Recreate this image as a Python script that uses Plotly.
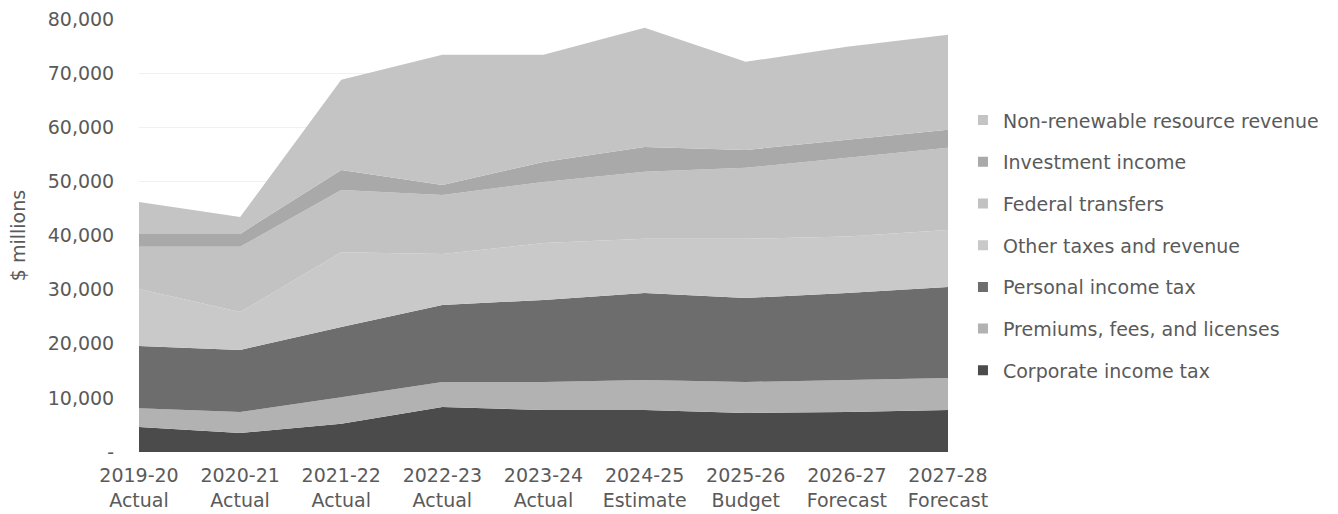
import plotly.graph_objects as go

# Fiscal years and their status
years = ["2019-20", "2020-21", "2021-22", "2022-23", "2023-24",
         "2024-25", "2025-26", "2026-27", "2027-28"]
status = ["Actual", "Actual", "Actual", "Actual", "Actual",
          "Estimate", "Budget", "Forecast", "Forecast"]

# Revenue by source ($ millions)
corporate_income_tax = [4600, 3500, 5200, 8300, 7760, 7760, 7200, 7390, 7760]
premiums_fees_licenses = [3500, 3900, 4900, 4640, 5180, 5540, 5740, 5910, 5920]
personal_income_tax = [11500, 11450, 13000, 14230, 15160, 16090, 15520, 16090, 16820]
other_taxes_revenue = [10500, 7000, 13800, 9400, 10500, 10000, 10940, 10410, 10500]
federal_transfers = [7800, 12050, 11500, 10930, 11300, 12370, 13100, 14540, 15190]
investment_income = [2400, 2400, 3700, 1850, 3700, 4600, 3300, 3330, 3330]
non_renewable_resource = [5900, 3100, 16660, 24030, 19800, 22010, 16290, 17190, 17560]

# Stacked bottom to top
series = [
    ("Corporate income tax", corporate_income_tax, "#4b4b4b"),
    ("Premiums, fees, and licenses", premiums_fees_licenses, "#b2b2b2"),
    ("Personal income tax", personal_income_tax, "#6d6d6d"),
    ("Other taxes and revenue", other_taxes_revenue, "#c9c9c9"),
    ("Federal transfers", federal_transfers, "#c2c2c2"),
    ("Investment income", investment_income, "#a9a9a9"),
    ("Non-renewable resource revenue", non_renewable_resource, "#c4c4c4"),
]

x_labels = [f"{y}<br>{s}" for y, s in zip(years, status)]
x_pos = list(range(len(years)))

fig = go.Figure()
for name, values, color in series:
    fig.add_trace(go.Scatter(
        x=x_pos, y=values, name=name,
        mode="lines", line=dict(width=0, color=color),
        fillcolor=color, stackgroup="revenue",
        showlegend=False, hoverinfo="x+y+name",
    ))

# Square legend keys, listed top layer first
for name, values, color in reversed(series):
    fig.add_trace(go.Scatter(
        x=[None], y=[None], name=name, mode="markers",
        marker=dict(symbol="square", size=10, color=color),
        legendgroup=name, showlegend=True,
    ))

text_color = "#5a5a5a"
font_family = "DejaVu Sans, Verdana, sans-serif"

y_ticks = list(range(0, 80001, 10000))
y_text = ["-"] + [f"{v:,}" for v in y_ticks[1:]]

fig.update_layout(
    width=1338, height=514,
    margin=dict(l=139, r=390, t=19, b=62),
    paper_bgcolor="white", plot_bgcolor="white",
    font=dict(family=font_family, size=19, color=text_color),
    showlegend=True,
    legend=dict(
        x=1.0185, xanchor="left", y=0.81, yanchor="top",
        traceorder="grouped", tracegroupgap=14,
        font=dict(size=19, color=text_color),
        itemwidth=30,
    ),
    xaxis=dict(
        range=[0, 8], tickvals=x_pos, ticktext=x_labels,
        showgrid=False, zeroline=False, showline=False,
        ticks="outside", ticklen=6, tickcolor="rgba(0,0,0,0)",
        tickfont=dict(size=19, color=text_color),
        automargin=False,
    ),
    yaxis=dict(
        range=[0, 80000], tickvals=y_ticks, ticktext=y_text,
        showgrid=True, gridcolor="#f0f0f0", gridwidth=1,
        zeroline=False, showline=False,
        ticks="outside", ticklen=20, tickcolor="rgba(0,0,0,0)",
        tickfont=dict(size=19, color=text_color),
        title=dict(text="$ millions", standoff=17,
                   font=dict(size=19, color=text_color)),
        automargin=False,
    ),
)

fig.write_html("out.html")
